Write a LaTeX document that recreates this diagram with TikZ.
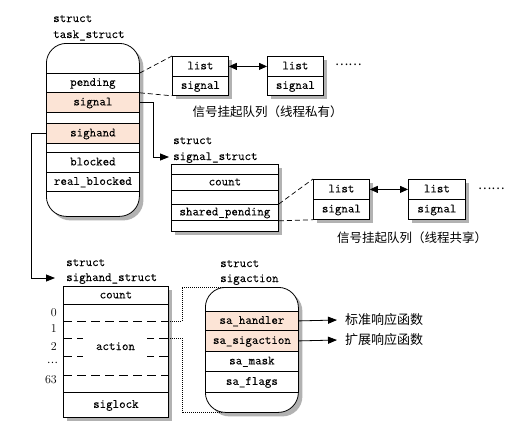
\documentclass[tikz,border=0pt]{standalone}
\usepackage{fontspec}
\newfontfamily\cjk{Noto Sans CJK SC}
\newfontfamily\mymono{Latin Modern Mono}[FakeBold=0.25]
\usetikzlibrary{arrows.meta,shadows}
\definecolor{peach}{HTML}{FCE4D6}
\begin{document}
\begin{tikzpicture}[x=1pt,y=-1pt,
  mono/.style={font=\fontsize{12.6}{14}\selectfont\mymono, text height=8.5pt, text depth=2.5pt, inner sep=0pt},
  title/.style={mono, anchor=west},
  row/.style={mono, draw, line width=0.8pt, anchor=north west},
  hl/.style={fill=peach},
  shbox/.style={draw, line width=0.8pt, fill=white, anchor=north west, inner sep=0pt,
     drop shadow={shadow xshift=4pt, shadow yshift=-4pt, fill=black!30, opacity=1}},
  rbox/.style={shbox, rounded corners=20pt},
  cn/.style={font=\fontsize{12.5}{14}\selectfont\cjk, inner sep=0pt},
  num/.style={font=\fontsize{12}{14}\selectfont\rmfamily, inner sep=0pt, anchor=east},
  arr/.style={line width=0.8pt, -{Triangle[length=9pt,width=7pt]}},
  darr/.style={line width=0.8pt, {Triangle[length=8pt,width=7pt]}-{Triangle[length=8pt,width=7pt]}},
  dsh/.style={line width=0.7pt, dash pattern=on 5pt off 3pt},
  sdash/.style={line width=0.8pt, dash pattern=on 9pt off 5pt},
  dot/.style={line width=0.7pt, dash pattern=on 1pt off 1pt},
]
\useasboundingbox[fill=white] (0,0) rectangle (508,424);

% ---------- task_struct ----------
\node[title] (t1) at (53,19) {struct};
\node[title] (t2) at (53,35) {task\_struct};
\node[rbox, minimum width=93pt, minimum height=173pt] (task) at (46,43) {};
\node[row, minimum width=93pt, minimum height=19pt] (tpend) at (46,73) {pending};
\node[row, hl, minimum width=93pt, minimum height=20pt] (tsig) at (46,92) {signal};
\node[row, hl, minimum width=93pt, minimum height=20pt] (tsh) at (46,123) {sighand};
\node[row, minimum width=93pt, minimum height=20pt] (tblk) at (46,152) {blocked};
\node[row, minimum width=93pt, minimum height=19pt] (trblk) at (46,172) {real\_blocked};

% ---------- private pending list ----------
\node[shbox, minimum width=56pt, minimum height=39pt] (l1) at (172,56) {};
\node[row, minimum width=56pt, minimum height=20pt] (l1a) at (172,56) {list};
\node[row, minimum width=56pt, minimum height=19pt] (l1b) at (172,76) {signal};
\node[shbox, minimum width=56pt, minimum height=39pt] (l2) at (267,56) {};
\node[row, minimum width=56pt, minimum height=20pt] (l2a) at (267,56) {list};
\node[row, minimum width=56pt, minimum height=19pt] (l2b) at (267,76) {signal};
\node[cn, anchor=west] (dots1) at (335,65) {……};
\node[cn] (cap1) at (267.5,112) {信号挂起队列（线程私有）};

\draw[dsh] (tpend.north east) -- (l1.north west);
\draw[dsh] (tpend.south east) -- (l1.south west);
\draw[darr] (l1a.east) -- (l2a.west);

% ---------- signal_struct ----------
\node[title] (s1) at (173,141) {struct};
\node[title] (s2) at (173,157) {signal\_struct};
\node[shbox, minimum width=107pt, minimum height=67pt] (ss) at (171,164) {};
\node[row, minimum width=107pt, minimum height=16pt] (scnt) at (171,174) {count};
\node[row, minimum width=107pt, minimum height=16pt] (sp) at (171,204) {shared\_pending};

\draw[arr] (tsig.east) -- ++(14,0) |- ([xshift=-4pt]s2.west);

% ---------- shared pending list ----------
\node[shbox, minimum width=56pt, minimum height=40pt] (l3) at (313,179) {};
\node[row, minimum width=56pt, minimum height=20pt] (l3a) at (313,179) {list};
\node[row, minimum width=56pt, minimum height=20pt] (l3b) at (313,199) {signal};
\node[shbox, minimum width=57pt, minimum height=40pt] (l4) at (408,179) {};
\node[row, minimum width=57pt, minimum height=20pt] (l4a) at (408,179) {list};
\node[row, minimum width=57pt, minimum height=20pt] (l4b) at (408,199) {signal};
\node[cn, anchor=west] (dots2) at (478,189) {……};
\node[cn] (cap2) at (412,238) {信号挂起队列（线程共享）};

\draw[dsh] (sp.north east) -- (l3.north west);
\draw[dsh] (sp.south east) -- (l3.south west);
\draw[darr] (l3a.east) -- (l4a.west);

% ---------- sighand_struct ----------
\node[title] (h1) at (66,263) {struct};
\node[title] (h2) at (66,278) {sighand\_struct};
\node[shbox, minimum width=105pt, minimum height=131pt] (sh) at (63,286) {};
\node[row, minimum width=105pt, minimum height=18pt] (hcnt) at (63,286) {count};
\node[row, minimum width=105pt, minimum height=25pt] (hlock) at (63,392) {siglock};
\node[mono] (act) at (115.5,347) {action};

\coordinate (a0l) at (63,321);  \coordinate (a0r) at (168,321);
\coordinate (a1l) at (63,338);  \coordinate (a1r) at (168,338);
\coordinate (a2l) at (63,356);  \coordinate (a2r) at (168,356);
\coordinate (a3l) at (63,375);  \coordinate (a3r) at (168,375);
\draw[sdash] (a0l) -- (a0r);
\draw[sdash] (a1l) -- ++(20,0);
\draw[sdash] (a1r) -- ++(-21,0);
\draw[sdash] (a2l) -- ++(20,0);
\draw[sdash] (a2r) -- ++(-21,0);
\draw[sdash] (a3l) -- (a3r);

\node[num] (n0) at (57,313) {0};
\node[num] (n1) at (57,329) {1};
\node[num] (n2) at (57,346) {2};
\node[num, font=\fontsize{10}{12}\selectfont\cjk] (n3) at (58,363) {…};
\node[num] (n63) at (57,380) {63};

\draw[arr] (tsh.west) -- ++(-15,0) |- ([xshift=-11pt]h2.west);

% ---------- sigaction ----------
\node[title] (g1) at (220,264) {struct};
\node[title] (g2) at (220,279) {sigaction};
\node[rbox, minimum width=93pt, minimum height=125pt] (sa) at (205,287) {};
\node[row, hl, minimum width=93pt, minimum height=19pt] (sah) at (205,311) {sa\_handler};
\node[row, hl, minimum width=93pt, minimum height=21pt] (sas) at (205,330) {sa\_sigaction};
\node[row, minimum width=93pt, minimum height=20pt] (sam) at (205,351) {sa\_mask};
\node[row, minimum width=93pt, minimum height=21pt] (saf) at (205,371) {sa\_flags};

\draw[dot] (a0r) -- ++(14,0) |- ([xshift=18pt]sa.north west);
\draw[dot] (a1r) -- ++(14,0) |- ([xshift=18pt]sa.south west);

\node[cn, anchor=west, font=\fontsize{13}{15}\selectfont\cjk] (f1) at (345,320) {标准响应函数};
\node[cn, anchor=west, font=\fontsize{13}{15}\selectfont\cjk] (f2) at (345,340) {扩展响应函数};
\draw[arr] (sah.east) -- ([xshift=-8pt]f1.west);
\draw[arr] (sas.east) -- ([xshift=-8pt]f2.west);
\end{tikzpicture}
\end{document}
